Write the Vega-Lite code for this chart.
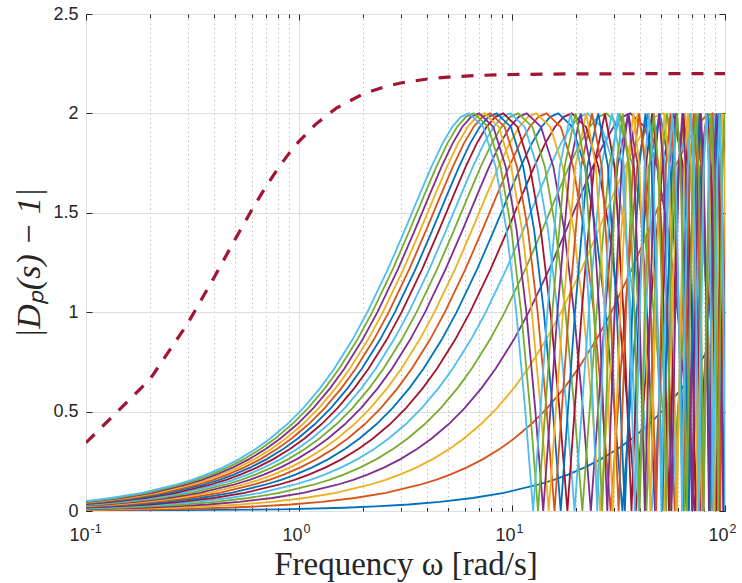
{
"$schema": "https://vega.github.io/schema/vega-lite/v6.json",
"width": 639, "height": 497,
"autosize": {"type": "none"},
"padding": {"left": 86, "top": 14, "right": 17, "bottom": 72},
"background": "white",
"config": {"view": {"stroke": "#3a3a3a", "strokeWidth": 1}, "font": "Liberation Sans"},
"datasets": {
"bound": [{"w":0.1,"v":0.3436},{"w":0.2,"v":0.6633},{"w":0.3,"v":0.9429},{"w":0.4,"v":1.176},{"w":0.5,"v":1.3644},{"w":0.6,"v":1.5142},{"w":0.7,"v":1.6324},{"w":0.8,"v":1.7258},{"w":0.9,"v":1.8},{"w":1,"v":1.8593},{"w":1.2,"v":1.9462},{"w":1.5,"v":2.0272},{"w":2,"v":2.0976},{"w":2.5,"v":2.1328},{"w":3,"v":2.1527},{"w":4,"v":2.173},{"w":5,"v":2.1826},{"w":7,"v":2.1911},{"w":10,"v":2.1956},{"w":20,"v":2.1989},{"w":50,"v":2.1998},{"w":100,"v":2.2}],
"curves": [
{"c":1,"w":0.1,"v":0.001},{"c":1,"w":0.818,"v":0.0082},{"c":1,"w":1.636,"v":0.0164},{"c":1,"w":2.291,"v":0.0229},{"c":1,"w":3.272,"v":0.0327},{"c":1,"w":4.581,"v":0.0458},{"c":1,"w":6.545,"v":0.0654},{"c":1,"w":9.163,"v":0.0916},{"c":1,"w":13.09,"v":0.1308},{"c":1,"w":18.33,"v":0.183},{"c":1,"w":26.18,"v":0.2611},{"c":1,"w":36.65,"v":0.3645},{"c":1,"w":52.36,"v":0.5176},{"c":1,"w":73.3,"v":0.7167},{"c":1,"w":104.72,"v":1},
{"c":1,"w":15.708,"v":0.1569},{"c":1,"w":21.991,"v":0.2195},{"c":1,"w":31.416,"v":0.3129},{"c":1,"w":43.982,"v":0.4363},{"c":1,"w":62.832,"v":0.618},{"c":1,"w":89.012,"v":0.861},
{"c":2,"w":0.1,"v":0.0036},{"c":2,"w":0.2286,"v":0.0082},{"c":2,"w":0.4572,"v":0.0164},{"c":2,"w":0.6401,"v":0.0229},{"c":2,"w":0.9144,"v":0.0327},{"c":2,"w":1.2801,"v":0.0458},{"c":2,"w":1.8288,"v":0.0654},{"c":2,"w":2.5603,"v":0.0916},{"c":2,"w":3.6575,"v":0.1308},{"c":2,"w":5.1205,"v":0.183},{"c":2,"w":7.315,"v":0.2611},{"c":2,"w":10.241,"v":0.3645},{"c":2,"w":14.63,"v":0.5176},{"c":2,"w":20.482,"v":0.7167},{"c":2,"w":29.26,"v":1},{"c":2,"w":58.52,"v":1.732},{"c":2,"w":87.78,"v":2},{"c":2,"w":117.04,"v":1.732},
{"c":2,"w":4.389,"v":0.1569},{"c":2,"w":6.1446,"v":0.2195},{"c":2,"w":8.778,"v":0.3129},{"c":2,"w":12.289,"v":0.4363},{"c":2,"w":17.556,"v":0.618},{"c":2,"w":24.871,"v":0.861},{"c":2,"w":36.575,"v":1.2175},{"c":2,"w":43.89,"v":1.4142},{"c":2,"w":51.205,"v":1.5867},{"c":2,"w":65.835,"v":1.8478},{"c":2,"w":73.15,"v":1.9319},{"c":2,"w":80.465,"v":1.9829},{"c":2,"w":102.41,"v":1.9319},
{"c":3,"w":0.1,"v":0.0062},{"c":3,"w":0.1329,"v":0.0082},{"c":3,"w":0.2657,"v":0.0164},{"c":3,"w":0.372,"v":0.0229},{"c":3,"w":0.5314,"v":0.0327},{"c":3,"w":0.744,"v":0.0458},{"c":3,"w":1.0629,"v":0.0654},{"c":3,"w":1.488,"v":0.0916},{"c":3,"w":2.1258,"v":0.1308},{"c":3,"w":2.9761,"v":0.183},{"c":3,"w":4.2515,"v":0.2611},{"c":3,"w":5.9521,"v":0.3645},{"c":3,"w":8.503,"v":0.5176},{"c":3,"w":11.904,"v":0.7167},{"c":3,"w":17.006,"v":1},{"c":3,"w":34.012,"v":1.732},{"c":3,"w":51.018,"v":2},{"c":3,"w":68.024,"v":1.732},{"c":3,"w":85.03,"v":1},{"c":3,"w":102.04,"v":0},
{"c":3,"w":2.5509,"v":0.1569},{"c":3,"w":3.5713,"v":0.2195},{"c":3,"w":5.1018,"v":0.3129},{"c":3,"w":7.1425,"v":0.4363},{"c":3,"w":10.204,"v":0.618},{"c":3,"w":14.455,"v":0.861},{"c":3,"w":21.258,"v":1.2175},{"c":3,"w":25.509,"v":1.4142},{"c":3,"w":29.761,"v":1.5867},{"c":3,"w":38.264,"v":1.8478},{"c":3,"w":42.515,"v":1.9319},{"c":3,"w":46.767,"v":1.9829},{"c":3,"w":59.521,"v":1.9319},{"c":3,"w":76.527,"v":1.4142},{"c":3,"w":93.533,"v":0.5176},
{"c":4,"w":0.1,"v":0.0087},{"c":4,"w":0.1873,"v":0.0164},{"c":4,"w":0.2622,"v":0.0229},{"c":4,"w":0.3746,"v":0.0327},{"c":4,"w":0.5244,"v":0.0458},{"c":4,"w":0.7491,"v":0.0654},{"c":4,"w":1.0488,"v":0.0916},{"c":4,"w":1.4983,"v":0.1308},{"c":4,"w":2.0976,"v":0.183},{"c":4,"w":2.9965,"v":0.2611},{"c":4,"w":4.1951,"v":0.3645},{"c":4,"w":5.993,"v":0.5176},{"c":4,"w":8.39,"v":0.7167},{"c":4,"w":11.986,"v":1},{"c":4,"w":23.972,"v":1.732},{"c":4,"w":35.958,"v":2},{"c":4,"w":47.944,"v":1.732},{"c":4,"w":59.93,"v":1},{"c":4,"w":71.916,"v":0},{"c":4,"w":83.902,"v":1},{"c":4,"w":95.888,"v":1.732},{"c":4,"w":107.87,"v":2},
{"c":4,"w":1.7979,"v":0.1569},{"c":4,"w":2.5171,"v":0.2195},{"c":4,"w":3.5958,"v":0.3129},{"c":4,"w":5.0341,"v":0.4363},{"c":4,"w":7.1916,"v":0.618},{"c":4,"w":10.188,"v":0.861},{"c":4,"w":14.983,"v":1.2175},{"c":4,"w":17.979,"v":1.4142},{"c":4,"w":20.976,"v":1.5867},{"c":4,"w":26.969,"v":1.8478},{"c":4,"w":29.965,"v":1.9319},{"c":4,"w":32.962,"v":1.9829},{"c":4,"w":41.951,"v":1.9319},{"c":4,"w":53.937,"v":1.4142},{"c":4,"w":65.923,"v":0.5176},
{"c":5,"w":0.1,"v":0.0113},{"c":5,"w":0.1446,"v":0.0164},{"c":5,"w":0.2024,"v":0.0229},{"c":5,"w":0.2892,"v":0.0327},{"c":5,"w":0.4049,"v":0.0458},{"c":5,"w":0.5784,"v":0.0654},{"c":5,"w":0.8098,"v":0.0916},{"c":5,"w":1.1568,"v":0.1308},{"c":5,"w":1.6195,"v":0.183},{"c":5,"w":2.3136,"v":0.2611},{"c":5,"w":3.239,"v":0.3645},{"c":5,"w":4.6272,"v":0.5176},{"c":5,"w":6.478,"v":0.7167},{"c":5,"w":9.254,"v":1},{"c":5,"w":18.509,"v":1.732},{"c":5,"w":27.763,"v":2},{"c":5,"w":37.017,"v":1.732},{"c":5,"w":46.272,"v":1},{"c":5,"w":55.526,"v":0},{"c":5,"w":64.78,"v":1},{"c":5,"w":74.034,"v":1.732},{"c":5,"w":83.289,"v":2},{"c":5,"w":92.543,"v":1.732},{"c":5,"w":101.8,"v":1},
{"c":5,"w":1.3881,"v":0.1569},{"c":5,"w":1.9434,"v":0.2195},{"c":5,"w":2.7763,"v":0.3129},{"c":5,"w":3.8868,"v":0.4363},{"c":5,"w":5.5526,"v":0.618},{"c":5,"w":7.8662,"v":0.861},{"c":5,"w":11.568,"v":1.2175},{"c":5,"w":13.881,"v":1.4142},{"c":5,"w":16.195,"v":1.5867},{"c":5,"w":20.822,"v":1.8478},{"c":5,"w":23.136,"v":1.9319},{"c":5,"w":25.449,"v":1.9829},{"c":5,"w":32.39,"v":1.9319},{"c":5,"w":41.644,"v":1.4142},{"c":5,"w":50.899,"v":0.5176},
{"c":6,"w":0.1,"v":0.0139},{"c":6,"w":0.1178,"v":0.0164},{"c":6,"w":0.1649,"v":0.0229},{"c":6,"w":0.2355,"v":0.0327},{"c":6,"w":0.3297,"v":0.0458},{"c":6,"w":0.471,"v":0.0654},{"c":6,"w":0.6595,"v":0.0916},{"c":6,"w":0.9421,"v":0.1308},{"c":6,"w":1.3189,"v":0.183},{"c":6,"w":1.8842,"v":0.2611},{"c":6,"w":2.6378,"v":0.3645},{"c":6,"w":3.7684,"v":0.5176},{"c":6,"w":5.2757,"v":0.7167},{"c":6,"w":7.537,"v":1},{"c":6,"w":15.073,"v":1.732},{"c":6,"w":22.61,"v":2},{"c":6,"w":30.147,"v":1.732},{"c":6,"w":37.684,"v":1},{"c":6,"w":45.22,"v":0},{"c":6,"w":52.757,"v":1},{"c":6,"w":60.294,"v":1.732},{"c":6,"w":67.83,"v":2},{"c":6,"w":75.367,"v":1.732},{"c":6,"w":82.904,"v":1},{"c":6,"w":90.44,"v":0},{"c":6,"w":97.977,"v":1},{"c":6,"w":105.51,"v":1.732},
{"c":6,"w":1.1305,"v":0.1569},{"c":6,"w":1.5827,"v":0.2195},{"c":6,"w":2.261,"v":0.3129},{"c":6,"w":3.1654,"v":0.4363},{"c":6,"w":4.522,"v":0.618},{"c":6,"w":6.4062,"v":0.861},{"c":6,"w":9.4209,"v":1.2175},{"c":6,"w":11.305,"v":1.4142},{"c":6,"w":13.189,"v":1.5867},{"c":6,"w":16.958,"v":1.8478},{"c":6,"w":18.842,"v":1.9319},{"c":6,"w":20.726,"v":1.9829},{"c":6,"w":26.378,"v":1.9319},{"c":6,"w":33.915,"v":1.4142},{"c":6,"w":41.452,"v":0.5176},
{"c":7,"w":0.1,"v":0.0165},{"c":7,"w":0.1391,"v":0.0229},{"c":7,"w":0.1987,"v":0.0327},{"c":7,"w":0.2781,"v":0.0458},{"c":7,"w":0.3973,"v":0.0654},{"c":7,"w":0.5562,"v":0.0916},{"c":7,"w":0.7946,"v":0.1308},{"c":7,"w":1.1124,"v":0.183},{"c":7,"w":1.5892,"v":0.2611},{"c":7,"w":2.2249,"v":0.3645},{"c":7,"w":3.1784,"v":0.5176},{"c":7,"w":4.4498,"v":0.7167},{"c":7,"w":6.357,"v":1},{"c":7,"w":12.714,"v":1.732},{"c":7,"w":19.07,"v":2},{"c":7,"w":25.427,"v":1.732},{"c":7,"w":31.784,"v":1},{"c":7,"w":38.141,"v":0},{"c":7,"w":44.498,"v":1},{"c":7,"w":50.854,"v":1.732},{"c":7,"w":57.211,"v":2},{"c":7,"w":63.568,"v":1.732},{"c":7,"w":69.925,"v":1},{"c":7,"w":76.282,"v":0},{"c":7,"w":82.638,"v":1},{"c":7,"w":88.995,"v":1.732},{"c":7,"w":95.352,"v":2},{"c":7,"w":101.71,"v":1.732},
{"c":7,"w":0.95352,"v":0.1569},{"c":7,"w":1.3349,"v":0.2195},{"c":7,"w":1.907,"v":0.3129},{"c":7,"w":2.6699,"v":0.4363},{"c":7,"w":3.8141,"v":0.618},{"c":7,"w":5.4033,"v":0.861},{"c":7,"w":7.946,"v":1.2175},{"c":7,"w":9.5352,"v":1.4142},{"c":7,"w":11.124,"v":1.5867},{"c":7,"w":14.303,"v":1.8478},{"c":7,"w":15.892,"v":1.9319},{"c":7,"w":17.481,"v":1.9829},{"c":7,"w":22.249,"v":1.9319},{"c":7,"w":28.606,"v":1.4142},{"c":7,"w":34.962,"v":0.5176},
{"c":8,"w":0.1,"v":0.0191},{"c":8,"w":0.1202,"v":0.0229},{"c":8,"w":0.1718,"v":0.0327},{"c":8,"w":0.2405,"v":0.0458},{"c":8,"w":0.3435,"v":0.0654},{"c":8,"w":0.4809,"v":0.0916},{"c":8,"w":0.687,"v":0.1308},{"c":8,"w":0.9619,"v":0.183},{"c":8,"w":1.3741,"v":0.2611},{"c":8,"w":1.9237,"v":0.3645},{"c":8,"w":2.7482,"v":0.5176},{"c":8,"w":3.8474,"v":0.7167},{"c":8,"w":5.496,"v":1},{"c":8,"w":10.993,"v":1.732},{"c":8,"w":16.489,"v":2},{"c":8,"w":21.985,"v":1.732},{"c":8,"w":27.482,"v":1},{"c":8,"w":32.978,"v":0},{"c":8,"w":38.474,"v":1},{"c":8,"w":43.97,"v":1.732},{"c":8,"w":49.467,"v":2},{"c":8,"w":54.963,"v":1.732},{"c":8,"w":60.459,"v":1},{"c":8,"w":65.956,"v":0},{"c":8,"w":71.452,"v":1},{"c":8,"w":76.948,"v":1.732},{"c":8,"w":82.445,"v":2},{"c":8,"w":87.941,"v":1.732},{"c":8,"w":93.437,"v":1},{"c":8,"w":98.933,"v":0},{"c":8,"w":104.43,"v":1},
{"c":8,"w":0.82445,"v":0.1569},{"c":8,"w":1.1542,"v":0.2195},{"c":8,"w":1.6489,"v":0.3129},{"c":8,"w":2.3084,"v":0.4363},{"c":8,"w":3.2978,"v":0.618},{"c":8,"w":4.6719,"v":0.861},{"c":8,"w":6.8704,"v":1.2175},{"c":8,"w":8.2445,"v":1.4142},{"c":8,"w":9.6185,"v":1.5867},{"c":8,"w":12.367,"v":1.8478},{"c":8,"w":13.741,"v":1.9319},{"c":8,"w":15.115,"v":1.9829},{"c":8,"w":19.237,"v":1.9319},{"c":8,"w":24.733,"v":1.4142},{"c":8,"w":30.23,"v":0.5176},
{"c":9,"w":0.1,"v":0.0216},{"c":9,"w":0.1059,"v":0.0229},{"c":9,"w":0.1513,"v":0.0327},{"c":9,"w":0.2118,"v":0.0458},{"c":9,"w":0.3026,"v":0.0654},{"c":9,"w":0.4236,"v":0.0916},{"c":9,"w":0.6051,"v":0.1308},{"c":9,"w":0.8472,"v":0.183},{"c":9,"w":1.2103,"v":0.2611},{"c":9,"w":1.6944,"v":0.3645},{"c":9,"w":2.4206,"v":0.5176},{"c":9,"w":3.3888,"v":0.7167},{"c":9,"w":4.841,"v":1},{"c":9,"w":9.682,"v":1.732},{"c":9,"w":14.523,"v":2},{"c":9,"w":19.364,"v":1.732},{"c":9,"w":24.206,"v":1},{"c":9,"w":29.047,"v":0},{"c":9,"w":33.888,"v":1},{"c":9,"w":38.729,"v":1.732},{"c":9,"w":43.57,"v":2},{"c":9,"w":48.411,"v":1.732},{"c":9,"w":53.252,"v":1},{"c":9,"w":58.093,"v":0},{"c":9,"w":62.934,"v":1},{"c":9,"w":67.775,"v":1.732},{"c":9,"w":72.617,"v":2},{"c":9,"w":77.458,"v":1.732},{"c":9,"w":82.299,"v":1},{"c":9,"w":87.14,"v":0},{"c":9,"w":91.981,"v":1},{"c":9,"w":96.822,"v":1.732},{"c":9,"w":101.66,"v":2},
{"c":9,"w":0.72617,"v":0.1569},{"c":9,"w":1.0166,"v":0.2195},{"c":9,"w":1.4523,"v":0.3129},{"c":9,"w":2.0333,"v":0.4363},{"c":9,"w":2.9047,"v":0.618},{"c":9,"w":4.1149,"v":0.861},{"c":9,"w":6.0514,"v":1.2175},{"c":9,"w":7.2617,"v":1.4142},{"c":9,"w":8.4719,"v":1.5867},{"c":9,"w":10.892,"v":1.8478},{"c":9,"w":12.103,"v":1.9319},{"c":9,"w":13.313,"v":1.9829},{"c":9,"w":16.944,"v":1.9319},{"c":9,"w":21.785,"v":1.4142},{"c":9,"w":26.626,"v":0.5176},
{"c":10,"w":0.1,"v":0.0242},{"c":10,"w":0.1352,"v":0.0327},{"c":10,"w":0.1892,"v":0.0458},{"c":10,"w":0.2703,"v":0.0654},{"c":10,"w":0.3785,"v":0.0916},{"c":10,"w":0.5407,"v":0.1308},{"c":10,"w":0.7569,"v":0.183},{"c":10,"w":1.0814,"v":0.2611},{"c":10,"w":1.5139,"v":0.3645},{"c":10,"w":2.1627,"v":0.5176},{"c":10,"w":3.0278,"v":0.7167},{"c":10,"w":4.325,"v":1},{"c":10,"w":8.651,"v":1.732},{"c":10,"w":12.976,"v":2},{"c":10,"w":17.302,"v":1.732},{"c":10,"w":21.627,"v":1},{"c":10,"w":25.952,"v":0},{"c":10,"w":30.278,"v":1},{"c":10,"w":34.603,"v":1.732},{"c":10,"w":38.929,"v":2},{"c":10,"w":43.254,"v":1.732},{"c":10,"w":47.579,"v":1},{"c":10,"w":51.905,"v":0},{"c":10,"w":56.23,"v":1},{"c":10,"w":60.556,"v":1.732},{"c":10,"w":64.881,"v":2},{"c":10,"w":69.206,"v":1.732},{"c":10,"w":73.532,"v":1},{"c":10,"w":77.857,"v":0},{"c":10,"w":82.183,"v":1},{"c":10,"w":86.508,"v":1.732},{"c":10,"w":90.833,"v":2},{"c":10,"w":95.159,"v":1.732},{"c":10,"w":99.484,"v":1},{"c":10,"w":103.81,"v":0},
{"c":10,"w":0.64881,"v":0.1569},{"c":10,"w":0.90833,"v":0.2195},{"c":10,"w":1.2976,"v":0.3129},{"c":10,"w":1.8167,"v":0.4363},{"c":10,"w":2.5952,"v":0.618},{"c":10,"w":3.6766,"v":0.861},{"c":10,"w":5.4068,"v":1.2175},{"c":10,"w":6.4881,"v":1.4142},{"c":10,"w":7.5695,"v":1.5867},{"c":10,"w":9.7322,"v":1.8478},{"c":10,"w":10.814,"v":1.9319},{"c":10,"w":11.895,"v":1.9829},{"c":10,"w":15.139,"v":1.9319},{"c":10,"w":19.464,"v":1.4142},{"c":10,"w":23.79,"v":0.5176},
{"c":11,"w":0.1,"v":0.0268},{"c":11,"w":0.1222,"v":0.0327},{"c":11,"w":0.171,"v":0.0458},{"c":11,"w":0.2443,"v":0.0654},{"c":11,"w":0.342,"v":0.0916},{"c":11,"w":0.4886,"v":0.1308},{"c":11,"w":0.6841,"v":0.183},{"c":11,"w":0.9773,"v":0.2611},{"c":11,"w":1.3682,"v":0.3645},{"c":11,"w":1.9545,"v":0.5176},{"c":11,"w":2.7363,"v":0.7167},{"c":11,"w":3.909,"v":1},{"c":11,"w":7.818,"v":1.732},{"c":11,"w":11.727,"v":2},{"c":11,"w":15.636,"v":1.732},{"c":11,"w":19.545,"v":1},{"c":11,"w":23.454,"v":0},{"c":11,"w":27.363,"v":1},{"c":11,"w":31.272,"v":1.732},{"c":11,"w":35.181,"v":2},{"c":11,"w":39.09,"v":1.732},{"c":11,"w":42.999,"v":1},{"c":11,"w":46.908,"v":0},{"c":11,"w":50.817,"v":1},{"c":11,"w":54.726,"v":1.732},{"c":11,"w":58.635,"v":2},{"c":11,"w":62.544,"v":1.732},{"c":11,"w":66.453,"v":1},{"c":11,"w":70.362,"v":0},{"c":11,"w":74.271,"v":1},{"c":11,"w":78.18,"v":1.732},{"c":11,"w":82.089,"v":2},{"c":11,"w":85.998,"v":1.732},{"c":11,"w":89.907,"v":1},{"c":11,"w":93.816,"v":0},{"c":11,"w":97.725,"v":1},{"c":11,"w":101.63,"v":1.732},
{"c":11,"w":0.58635,"v":0.1569},{"c":11,"w":0.82089,"v":0.2195},{"c":11,"w":1.1727,"v":0.3129},{"c":11,"w":1.6418,"v":0.4363},{"c":11,"w":2.3454,"v":0.618},{"c":11,"w":3.3227,"v":0.861},{"c":11,"w":4.8863,"v":1.2175},{"c":11,"w":5.8635,"v":1.4142},{"c":11,"w":6.8408,"v":1.5867},{"c":11,"w":8.7953,"v":1.8478},{"c":11,"w":9.7725,"v":1.9319},{"c":11,"w":10.75,"v":1.9829},{"c":11,"w":13.682,"v":1.9319},{"c":11,"w":17.591,"v":1.4142},{"c":11,"w":21.5,"v":0.5176},
{"c":12,"w":0.1,"v":0.0294},{"c":12,"w":0.1114,"v":0.0327},{"c":12,"w":0.156,"v":0.0458},{"c":12,"w":0.2229,"v":0.0654},{"c":12,"w":0.312,"v":0.0916},{"c":12,"w":0.4457,"v":0.1308},{"c":12,"w":0.624,"v":0.183},{"c":12,"w":0.8914,"v":0.2611},{"c":12,"w":1.248,"v":0.3645},{"c":12,"w":1.7829,"v":0.5176},{"c":12,"w":2.496,"v":0.7167},{"c":12,"w":3.566,"v":1},{"c":12,"w":7.131,"v":1.732},{"c":12,"w":10.697,"v":2},{"c":12,"w":14.263,"v":1.732},{"c":12,"w":17.829,"v":1},{"c":12,"w":21.394,"v":0},{"c":12,"w":24.96,"v":1},{"c":12,"w":28.526,"v":1.732},{"c":12,"w":32.091,"v":2},{"c":12,"w":35.657,"v":1.732},{"c":12,"w":39.223,"v":1},{"c":12,"w":42.788,"v":0},{"c":12,"w":46.354,"v":1},{"c":12,"w":49.92,"v":1.732},{"c":12,"w":53.486,"v":2},{"c":12,"w":57.051,"v":1.732},{"c":12,"w":60.617,"v":1},{"c":12,"w":64.183,"v":0},{"c":12,"w":67.748,"v":1},{"c":12,"w":71.314,"v":1.732},{"c":12,"w":74.88,"v":2},{"c":12,"w":78.445,"v":1.732},{"c":12,"w":82.011,"v":1},{"c":12,"w":85.577,"v":0},{"c":12,"w":89.143,"v":1},{"c":12,"w":92.708,"v":1.732},{"c":12,"w":96.274,"v":2},{"c":12,"w":99.84,"v":1.732},{"c":12,"w":103.41,"v":1},
{"c":12,"w":0.53486,"v":0.1569},{"c":12,"w":0.7488,"v":0.2195},{"c":12,"w":1.0697,"v":0.3129},{"c":12,"w":1.4976,"v":0.4363},{"c":12,"w":2.1394,"v":0.618},{"c":12,"w":3.0308,"v":0.861},{"c":12,"w":4.4571,"v":1.2175},{"c":12,"w":5.3486,"v":1.4142},{"c":12,"w":6.24,"v":1.5867},{"c":12,"w":8.0228,"v":1.8478},{"c":12,"w":8.9143,"v":1.9319},{"c":12,"w":9.8057,"v":1.9829},{"c":12,"w":12.48,"v":1.9319},{"c":12,"w":16.046,"v":1.4142},{"c":12,"w":19.611,"v":0.5176},
{"c":13,"w":0.1,"v":0.0319},{"c":13,"w":0.1024,"v":0.0327},{"c":13,"w":0.1434,"v":0.0458},{"c":13,"w":0.2049,"v":0.0654},{"c":13,"w":0.2868,"v":0.0916},{"c":13,"w":0.4097,"v":0.1308},{"c":13,"w":0.5736,"v":0.183},{"c":13,"w":0.8195,"v":0.2611},{"c":13,"w":1.1473,"v":0.3645},{"c":13,"w":1.639,"v":0.5176},{"c":13,"w":2.2945,"v":0.7167},{"c":13,"w":3.278,"v":1},{"c":13,"w":6.556,"v":1.732},{"c":13,"w":9.834,"v":2},{"c":13,"w":13.112,"v":1.732},{"c":13,"w":16.39,"v":1},{"c":13,"w":19.667,"v":0},{"c":13,"w":22.945,"v":1},{"c":13,"w":26.223,"v":1.732},{"c":13,"w":29.501,"v":2},{"c":13,"w":32.779,"v":1.732},{"c":13,"w":36.057,"v":1},{"c":13,"w":39.335,"v":0},{"c":13,"w":42.613,"v":1},{"c":13,"w":45.891,"v":1.732},{"c":13,"w":49.169,"v":2},{"c":13,"w":52.446,"v":1.732},{"c":13,"w":55.724,"v":1},{"c":13,"w":59.002,"v":0},{"c":13,"w":62.28,"v":1},{"c":13,"w":65.558,"v":1.732},{"c":13,"w":68.836,"v":2},{"c":13,"w":72.114,"v":1.732},{"c":13,"w":75.392,"v":1},{"c":13,"w":78.67,"v":0},{"c":13,"w":81.948,"v":1},{"c":13,"w":85.225,"v":1.732},{"c":13,"w":88.503,"v":2},{"c":13,"w":91.781,"v":1.732},{"c":13,"w":95.059,"v":1},{"c":13,"w":98.337,"v":0},{"c":13,"w":101.61,"v":1},
{"c":13,"w":0.49169,"v":0.1569},{"c":13,"w":0.68836,"v":0.2195},{"c":13,"w":0.98337,"v":0.3129},{"c":13,"w":1.3767,"v":0.4363},{"c":13,"w":1.9667,"v":0.618},{"c":13,"w":2.7862,"v":0.861},{"c":13,"w":4.0974,"v":1.2175},{"c":13,"w":4.9169,"v":1.4142},{"c":13,"w":5.7363,"v":1.5867},{"c":13,"w":7.3753,"v":1.8478},{"c":13,"w":8.1948,"v":1.9319},{"c":13,"w":9.0142,"v":1.9829},{"c":13,"w":11.473,"v":1.9319},{"c":13,"w":14.751,"v":1.4142},{"c":13,"w":18.028,"v":0.5176},
{"c":14,"w":0.1,"v":0.0345},{"c":14,"w":0.1327,"v":0.0458},{"c":14,"w":0.1896,"v":0.0654},{"c":14,"w":0.2654,"v":0.0916},{"c":14,"w":0.3791,"v":0.1308},{"c":14,"w":0.5308,"v":0.183},{"c":14,"w":0.7583,"v":0.2611},{"c":14,"w":1.0616,"v":0.3645},{"c":14,"w":1.5165,"v":0.5176},{"c":14,"w":2.1231,"v":0.7167},{"c":14,"w":3.033,"v":1},{"c":14,"w":6.066,"v":1.732},{"c":14,"w":9.099,"v":2},{"c":14,"w":12.132,"v":1.732},{"c":14,"w":15.165,"v":1},{"c":14,"w":18.198,"v":0},{"c":14,"w":21.231,"v":1},{"c":14,"w":24.264,"v":1.732},{"c":14,"w":27.297,"v":2},{"c":14,"w":30.33,"v":1.732},{"c":14,"w":33.363,"v":1},{"c":14,"w":36.396,"v":0},{"c":14,"w":39.429,"v":1},{"c":14,"w":42.462,"v":1.732},{"c":14,"w":45.495,"v":2},{"c":14,"w":48.528,"v":1.732},{"c":14,"w":51.561,"v":1},{"c":14,"w":54.594,"v":0},{"c":14,"w":57.627,"v":1},{"c":14,"w":60.66,"v":1.732},{"c":14,"w":63.693,"v":2},{"c":14,"w":66.726,"v":1.732},{"c":14,"w":69.759,"v":1},{"c":14,"w":72.792,"v":0},{"c":14,"w":75.825,"v":1},{"c":14,"w":78.858,"v":1.732},{"c":14,"w":81.891,"v":2},{"c":14,"w":84.924,"v":1.732},{"c":14,"w":87.957,"v":1},{"c":14,"w":90.99,"v":0},{"c":14,"w":94.023,"v":1},{"c":14,"w":97.056,"v":1.732},{"c":14,"w":100.09,"v":2},
{"c":14,"w":0.45495,"v":0.1569},{"c":14,"w":0.63693,"v":0.2195},{"c":14,"w":0.9099,"v":0.3129},{"c":14,"w":1.2739,"v":0.4363},{"c":14,"w":1.8198,"v":0.618},{"c":14,"w":2.5781,"v":0.861},{"c":14,"w":3.7913,"v":1.2175},{"c":14,"w":4.5495,"v":1.4142},{"c":14,"w":5.3078,"v":1.5867},{"c":14,"w":6.8243,"v":1.8478},{"c":14,"w":7.5825,"v":1.9319},{"c":14,"w":8.3408,"v":1.9829},{"c":14,"w":10.616,"v":1.9319},{"c":14,"w":13.649,"v":1.4142},{"c":14,"w":16.682,"v":0.5176},
{"c":15,"w":0.1,"v":0.0371},{"c":15,"w":0.1235,"v":0.0458},{"c":15,"w":0.1764,"v":0.0654},{"c":15,"w":0.2469,"v":0.0916},{"c":15,"w":0.3528,"v":0.1308},{"c":15,"w":0.4939,"v":0.183},{"c":15,"w":0.7056,"v":0.2611},{"c":15,"w":0.9878,"v":0.3645},{"c":15,"w":1.4111,"v":0.5176},{"c":15,"w":1.9755,"v":0.7167},{"c":15,"w":2.822,"v":1},{"c":15,"w":5.644,"v":1.732},{"c":15,"w":8.467,"v":2},{"c":15,"w":11.289,"v":1.732},{"c":15,"w":14.111,"v":1},{"c":15,"w":16.933,"v":0},{"c":15,"w":19.755,"v":1},{"c":15,"w":22.578,"v":1.732},{"c":15,"w":25.4,"v":2},{"c":15,"w":28.222,"v":1.732},{"c":15,"w":31.044,"v":1},{"c":15,"w":33.866,"v":0},{"c":15,"w":36.689,"v":1},{"c":15,"w":39.511,"v":1.732},{"c":15,"w":42.333,"v":2},{"c":15,"w":45.155,"v":1.732},{"c":15,"w":47.977,"v":1},{"c":15,"w":50.8,"v":0},{"c":15,"w":53.622,"v":1},{"c":15,"w":56.444,"v":1.732},{"c":15,"w":59.266,"v":2},{"c":15,"w":62.088,"v":1.732},{"c":15,"w":64.911,"v":1},{"c":15,"w":67.733,"v":0},{"c":15,"w":70.555,"v":1},{"c":15,"w":73.377,"v":1.732},{"c":15,"w":76.199,"v":2},{"c":15,"w":79.022,"v":1.732},{"c":15,"w":81.844,"v":1},{"c":15,"w":84.666,"v":0},{"c":15,"w":87.488,"v":1},{"c":15,"w":90.31,"v":1.732},{"c":15,"w":93.133,"v":2},{"c":15,"w":95.955,"v":1.732},{"c":15,"w":98.777,"v":1},{"c":15,"w":101.6,"v":0},
{"c":15,"w":0.42333,"v":0.1569},{"c":15,"w":0.59266,"v":0.2195},{"c":15,"w":0.84666,"v":0.3129},{"c":15,"w":1.1853,"v":0.4363},{"c":15,"w":1.6933,"v":0.618},{"c":15,"w":2.3989,"v":0.861},{"c":15,"w":3.5278,"v":1.2175},{"c":15,"w":4.2333,"v":1.4142},{"c":15,"w":4.9389,"v":1.5867},{"c":15,"w":6.35,"v":1.8478},{"c":15,"w":7.0555,"v":1.9319},{"c":15,"w":7.7611,"v":1.9829},{"c":15,"w":9.8777,"v":1.9319},{"c":15,"w":12.7,"v":1.4142},{"c":15,"w":15.522,"v":0.5176},
{"c":16,"w":0.1,"v":0.0397},{"c":16,"w":0.1154,"v":0.0458},{"c":16,"w":0.1649,"v":0.0654},{"c":16,"w":0.2309,"v":0.0916},{"c":16,"w":0.3299,"v":0.1308},{"c":16,"w":0.4618,"v":0.183},{"c":16,"w":0.6597,"v":0.2611},{"c":16,"w":0.9236,"v":0.3645},{"c":16,"w":1.3194,"v":0.5176},{"c":16,"w":1.8472,"v":0.7167},{"c":16,"w":2.639,"v":1},{"c":16,"w":5.278,"v":1.732},{"c":16,"w":7.916,"v":2},{"c":16,"w":10.555,"v":1.732},{"c":16,"w":13.194,"v":1},{"c":16,"w":15.833,"v":0},{"c":16,"w":18.472,"v":1},{"c":16,"w":21.11,"v":1.732},{"c":16,"w":23.749,"v":2},{"c":16,"w":26.388,"v":1.732},{"c":16,"w":29.027,"v":1},{"c":16,"w":31.666,"v":0},{"c":16,"w":34.304,"v":1},{"c":16,"w":36.943,"v":1.732},{"c":16,"w":39.582,"v":2},{"c":16,"w":42.221,"v":1.732},{"c":16,"w":44.86,"v":1},{"c":16,"w":47.498,"v":0},{"c":16,"w":50.137,"v":1},{"c":16,"w":52.776,"v":1.732},{"c":16,"w":55.415,"v":2},{"c":16,"w":58.054,"v":1.732},{"c":16,"w":60.692,"v":1},{"c":16,"w":63.331,"v":0},{"c":16,"w":65.97,"v":1},{"c":16,"w":68.609,"v":1.732},{"c":16,"w":71.248,"v":2},{"c":16,"w":73.886,"v":1.732},{"c":16,"w":76.525,"v":1},{"c":16,"w":79.164,"v":0},{"c":16,"w":81.803,"v":1},{"c":16,"w":84.442,"v":1.732},{"c":16,"w":87.08,"v":2},{"c":16,"w":89.719,"v":1.732},{"c":16,"w":92.358,"v":1},{"c":16,"w":94.997,"v":0},{"c":16,"w":97.636,"v":1},{"c":16,"w":100.27,"v":1.732},
{"c":16,"w":0.39582,"v":0.1569},{"c":16,"w":0.55415,"v":0.2195},{"c":16,"w":0.79164,"v":0.3129},{"c":16,"w":1.1083,"v":0.4363},{"c":16,"w":1.5833,"v":0.618},{"c":16,"w":2.243,"v":0.861},{"c":16,"w":3.2985,"v":1.2175},{"c":16,"w":3.9582,"v":1.4142},{"c":16,"w":4.6179,"v":1.5867},{"c":16,"w":5.9373,"v":1.8478},{"c":16,"w":6.597,"v":1.9319},{"c":16,"w":7.2567,"v":1.9829},{"c":16,"w":9.2358,"v":1.9319},{"c":16,"w":11.875,"v":1.4142},{"c":16,"w":14.513,"v":0.5176},
{"c":17,"w":0.1,"v":0.0423},{"c":17,"w":0.1084,"v":0.0458},{"c":17,"w":0.1549,"v":0.0654},{"c":17,"w":0.2168,"v":0.0916},{"c":17,"w":0.3097,"v":0.1308},{"c":17,"w":0.4336,"v":0.183},{"c":17,"w":0.6195,"v":0.2611},{"c":17,"w":0.8672,"v":0.3645},{"c":17,"w":1.2389,"v":0.5176},{"c":17,"w":1.7345,"v":0.7167},{"c":17,"w":2.478,"v":1},{"c":17,"w":4.956,"v":1.732},{"c":17,"w":7.433,"v":2},{"c":17,"w":9.911,"v":1.732},{"c":17,"w":12.389,"v":1},{"c":17,"w":14.867,"v":0},{"c":17,"w":17.345,"v":1},{"c":17,"w":19.822,"v":1.732},{"c":17,"w":22.3,"v":2},{"c":17,"w":24.778,"v":1.732},{"c":17,"w":27.256,"v":1},{"c":17,"w":29.734,"v":0},{"c":17,"w":32.211,"v":1},{"c":17,"w":34.689,"v":1.732},{"c":17,"w":37.167,"v":2},{"c":17,"w":39.645,"v":1.732},{"c":17,"w":42.123,"v":1},{"c":17,"w":44.6,"v":0},{"c":17,"w":47.078,"v":1},{"c":17,"w":49.556,"v":1.732},{"c":17,"w":52.034,"v":2},{"c":17,"w":54.512,"v":1.732},{"c":17,"w":56.989,"v":1},{"c":17,"w":59.467,"v":0},{"c":17,"w":61.945,"v":1},{"c":17,"w":64.423,"v":1.732},{"c":17,"w":66.901,"v":2},{"c":17,"w":69.378,"v":1.732},{"c":17,"w":71.856,"v":1},{"c":17,"w":74.334,"v":0},{"c":17,"w":76.812,"v":1},{"c":17,"w":79.29,"v":1.732},{"c":17,"w":81.767,"v":2},{"c":17,"w":84.245,"v":1.732},{"c":17,"w":86.723,"v":1},{"c":17,"w":89.201,"v":0},{"c":17,"w":91.679,"v":1},{"c":17,"w":94.156,"v":1.732},{"c":17,"w":96.634,"v":2},{"c":17,"w":99.112,"v":1.732},{"c":17,"w":101.59,"v":1},
{"c":17,"w":0.37167,"v":0.1569},{"c":17,"w":0.52034,"v":0.2195},{"c":17,"w":0.74334,"v":0.3129},{"c":17,"w":1.0407,"v":0.4363},{"c":17,"w":1.4867,"v":0.618},{"c":17,"w":2.1061,"v":0.861},{"c":17,"w":3.0973,"v":1.2175},{"c":17,"w":3.7167,"v":1.4142},{"c":17,"w":4.3362,"v":1.5867},{"c":17,"w":5.5751,"v":1.8478},{"c":17,"w":6.1945,"v":1.9319},{"c":17,"w":6.814,"v":1.9829},{"c":17,"w":8.6723,"v":1.9319},{"c":17,"w":11.15,"v":1.4142},{"c":17,"w":13.628,"v":0.5176},
{"c":18,"w":0.1,"v":0.0448},{"c":18,"w":0.1022,"v":0.0458},{"c":18,"w":0.146,"v":0.0654},{"c":18,"w":0.2043,"v":0.0916},{"c":18,"w":0.2919,"v":0.1308},{"c":18,"w":0.4087,"v":0.183},{"c":18,"w":0.5838,"v":0.2611},{"c":18,"w":0.8174,"v":0.3645},{"c":18,"w":1.1677,"v":0.5176},{"c":18,"w":1.6347,"v":0.7167},{"c":18,"w":2.335,"v":1},{"c":18,"w":4.671,"v":1.732},{"c":18,"w":7.006,"v":2},{"c":18,"w":9.341,"v":1.732},{"c":18,"w":11.677,"v":1},{"c":18,"w":14.012,"v":0},{"c":18,"w":16.347,"v":1},{"c":18,"w":18.682,"v":1.732},{"c":18,"w":21.018,"v":2},{"c":18,"w":23.353,"v":1.732},{"c":18,"w":25.688,"v":1},{"c":18,"w":28.024,"v":0},{"c":18,"w":30.359,"v":1},{"c":18,"w":32.694,"v":1.732},{"c":18,"w":35.03,"v":2},{"c":18,"w":37.365,"v":1.732},{"c":18,"w":39.7,"v":1},{"c":18,"w":42.035,"v":0},{"c":18,"w":44.371,"v":1},{"c":18,"w":46.706,"v":1.732},{"c":18,"w":49.041,"v":2},{"c":18,"w":51.377,"v":1.732},{"c":18,"w":53.712,"v":1},{"c":18,"w":56.047,"v":0},{"c":18,"w":58.383,"v":1},{"c":18,"w":60.718,"v":1.732},{"c":18,"w":63.053,"v":2},{"c":18,"w":65.388,"v":1.732},{"c":18,"w":67.724,"v":1},{"c":18,"w":70.059,"v":0},{"c":18,"w":72.394,"v":1},{"c":18,"w":74.73,"v":1.732},{"c":18,"w":77.065,"v":2},{"c":18,"w":79.4,"v":1.732},{"c":18,"w":81.736,"v":1},{"c":18,"w":84.071,"v":0},{"c":18,"w":86.406,"v":1},{"c":18,"w":88.741,"v":1.732},{"c":18,"w":91.077,"v":2},{"c":18,"w":93.412,"v":1.732},{"c":18,"w":95.747,"v":1},{"c":18,"w":98.083,"v":0},{"c":18,"w":100.42,"v":1},
{"c":18,"w":0.3503,"v":0.1569},{"c":18,"w":0.49041,"v":0.2195},{"c":18,"w":0.70059,"v":0.3129},{"c":18,"w":0.98083,"v":0.4363},{"c":18,"w":1.4012,"v":0.618},{"c":18,"w":1.985,"v":0.861},{"c":18,"w":2.9191,"v":1.2175},{"c":18,"w":3.503,"v":1.4142},{"c":18,"w":4.0868,"v":1.5867},{"c":18,"w":5.2544,"v":1.8478},{"c":18,"w":5.8383,"v":1.9319},{"c":18,"w":6.4221,"v":1.9829},{"c":18,"w":8.1736,"v":1.9319},{"c":18,"w":10.509,"v":1.4142},{"c":18,"w":12.844,"v":0.5176},
{"c":19,"w":0.1,"v":0.0474},{"c":19,"w":0.138,"v":0.0654},{"c":19,"w":0.1932,"v":0.0916},{"c":19,"w":0.276,"v":0.1308},{"c":19,"w":0.3865,"v":0.183},{"c":19,"w":0.5521,"v":0.2611},{"c":19,"w":0.7729,"v":0.3645},{"c":19,"w":1.1042,"v":0.5176},{"c":19,"w":1.5458,"v":0.7167},{"c":19,"w":2.208,"v":1},{"c":19,"w":4.417,"v":1.732},{"c":19,"w":6.625,"v":2},{"c":19,"w":8.833,"v":1.732},{"c":19,"w":11.042,"v":1},{"c":19,"w":13.25,"v":0},{"c":19,"w":15.458,"v":1},{"c":19,"w":17.666,"v":1.732},{"c":19,"w":19.875,"v":2},{"c":19,"w":22.083,"v":1.732},{"c":19,"w":24.291,"v":1},{"c":19,"w":26.5,"v":0},{"c":19,"w":28.708,"v":1},{"c":19,"w":30.916,"v":1.732},{"c":19,"w":33.125,"v":2},{"c":19,"w":35.333,"v":1.732},{"c":19,"w":37.541,"v":1},{"c":19,"w":39.749,"v":0},{"c":19,"w":41.958,"v":1},{"c":19,"w":44.166,"v":1.732},{"c":19,"w":46.374,"v":2},{"c":19,"w":48.583,"v":1.732},{"c":19,"w":50.791,"v":1},{"c":19,"w":52.999,"v":0},{"c":19,"w":55.208,"v":1},{"c":19,"w":57.416,"v":1.732},{"c":19,"w":59.624,"v":2},{"c":19,"w":61.832,"v":1.732},{"c":19,"w":64.041,"v":1},{"c":19,"w":66.249,"v":0},{"c":19,"w":68.457,"v":1},{"c":19,"w":70.666,"v":1.732},{"c":19,"w":72.874,"v":2},{"c":19,"w":75.082,"v":1.732},{"c":19,"w":77.291,"v":1},{"c":19,"w":79.499,"v":0},{"c":19,"w":81.707,"v":1},{"c":19,"w":83.915,"v":1.732},{"c":19,"w":86.124,"v":2},{"c":19,"w":88.332,"v":1.732},{"c":19,"w":90.54,"v":1},{"c":19,"w":92.749,"v":0},{"c":19,"w":94.957,"v":1},{"c":19,"w":97.165,"v":1.732},{"c":19,"w":99.374,"v":2},{"c":19,"w":101.58,"v":1.732},
{"c":19,"w":0.33125,"v":0.1569},{"c":19,"w":0.46374,"v":0.2195},{"c":19,"w":0.66249,"v":0.3129},{"c":19,"w":0.92749,"v":0.4363},{"c":19,"w":1.325,"v":0.618},{"c":19,"w":1.8771,"v":0.861},{"c":19,"w":2.7604,"v":1.2175},{"c":19,"w":3.3125,"v":1.4142},{"c":19,"w":3.8645,"v":1.5867},{"c":19,"w":4.9687,"v":1.8478},{"c":19,"w":5.5208,"v":1.9319},{"c":19,"w":6.0728,"v":1.9829},{"c":19,"w":7.7291,"v":1.9319},{"c":19,"w":9.9374,"v":1.4142},{"c":19,"w":12.146,"v":0.5176},
{"c":20,"w":0.1,"v":0.05},{"c":20,"w":0.1309,"v":0.0654},{"c":20,"w":0.1833,"v":0.0916},{"c":20,"w":0.2618,"v":0.1308},{"c":20,"w":0.3665,"v":0.183},{"c":20,"w":0.5236,"v":0.2611},{"c":20,"w":0.733,"v":0.3645},{"c":20,"w":1.0472,"v":0.5176},{"c":20,"w":1.4661,"v":0.7167},{"c":20,"w":2.094,"v":1},{"c":20,"w":4.189,"v":1.732},{"c":20,"w":6.283,"v":2},{"c":20,"w":8.378,"v":1.732},{"c":20,"w":10.472,"v":1},{"c":20,"w":12.566,"v":0},{"c":20,"w":14.661,"v":1},{"c":20,"w":16.755,"v":1.732},{"c":20,"w":18.85,"v":2},{"c":20,"w":20.944,"v":1.732},{"c":20,"w":23.038,"v":1},{"c":20,"w":25.133,"v":0},{"c":20,"w":27.227,"v":1},{"c":20,"w":29.322,"v":1.732},{"c":20,"w":31.416,"v":2},{"c":20,"w":33.51,"v":1.732},{"c":20,"w":35.605,"v":1},{"c":20,"w":37.699,"v":0},{"c":20,"w":39.794,"v":1},{"c":20,"w":41.888,"v":1.732},{"c":20,"w":43.982,"v":2},{"c":20,"w":46.077,"v":1.732},{"c":20,"w":48.171,"v":1},{"c":20,"w":50.265,"v":0},{"c":20,"w":52.36,"v":1},{"c":20,"w":54.454,"v":1.732},{"c":20,"w":56.549,"v":2},{"c":20,"w":58.643,"v":1.732},{"c":20,"w":60.737,"v":1},{"c":20,"w":62.832,"v":0},{"c":20,"w":64.926,"v":1},{"c":20,"w":67.021,"v":1.732},{"c":20,"w":69.115,"v":2},{"c":20,"w":71.209,"v":1.732},{"c":20,"w":73.304,"v":1},{"c":20,"w":75.398,"v":0},{"c":20,"w":77.493,"v":1},{"c":20,"w":79.587,"v":1.732},{"c":20,"w":81.681,"v":2},{"c":20,"w":83.776,"v":1.732},{"c":20,"w":85.87,"v":1},{"c":20,"w":87.965,"v":0},{"c":20,"w":90.059,"v":1},{"c":20,"w":92.153,"v":1.732},{"c":20,"w":94.248,"v":2},{"c":20,"w":96.342,"v":1.732},{"c":20,"w":98.437,"v":1},{"c":20,"w":100.53,"v":0},
{"c":20,"w":0.31416,"v":0.1569},{"c":20,"w":0.43982,"v":0.2195},{"c":20,"w":0.62832,"v":0.3129},{"c":20,"w":0.87965,"v":0.4363},{"c":20,"w":1.2566,"v":0.618},{"c":20,"w":1.7802,"v":0.861},{"c":20,"w":2.618,"v":1.2175},{"c":20,"w":3.1416,"v":1.4142},{"c":20,"w":3.6652,"v":1.5867},{"c":20,"w":4.7124,"v":1.8478},{"c":20,"w":5.236,"v":1.9319},{"c":20,"w":5.7596,"v":1.9829},{"c":20,"w":7.3304,"v":1.9319},{"c":20,"w":9.4248,"v":1.4142},{"c":20,"w":11.519,"v":0.5176}
]},
"resolve": {"axis": {"x": "independent", "y": "independent"}},
"layer": [
{"data": {"name": "curves"},
 "mark": {"type": "line", "strokeWidth": 1.8, "clip": true},
 "encoding": {
  "x": {"field": "w", "type": "quantitative", "scale": {"type": "log", "domain": [0.1, 100], "nice": false},
    "axis": {"orient": "bottom", "values": [0.1, 1, 10, 100], "labelExpr": "'10'",
      "labelFont": "Liberation Sans", "labelFontSize": 18, "labelColor": "#262626", "labelPadding": 15, "labelFlush": false, "labelOffset": -7,
      "ticks": false, "domain": false, "grid": true, "gridColor": "#dedede", "gridWidth": 1,
      "title": "Frequency \u03c9 [rad/s]", "titleFont": "Liberation Serif", "titleFontSize": 33, "titleFontWeight": "normal", "titleColor": "#262626", "titlePadding": 4}},
  "y": {"field": "v", "type": "quantitative", "scale": {"domain": [0, 2.5], "nice": false, "zero": false},
    "axis": {"orient": "left", "values": [0, 0.5, 1, 1.5, 2, 2.5], "labelExpr": "'' + datum.value",
      "labelFont": "Liberation Sans", "labelFontSize": 18, "labelColor": "#262626", "labelPadding": 8,
      "ticks": false, "domain": false, "grid": true, "gridColor": "#dedede", "gridWidth": 1,
      "title": "|D\u209a(s) \u2212 1|", "titleFont": "Liberation Serif", "titleFontSize": 34, "titleFontWeight": "normal", "titleFontStyle": "italic", "titleColor": "#262626", "titlePadding": 6}},
  "color": {"field": "c", "type": "nominal", "legend": null,
    "scale": {"domain": [1,2,3,4,5,6,7,8,9,10,11,12,13,14,15,16,17,18,19,20],
      "range": ["#0072BD","#D95319","#EDB120","#7E2F8E","#77AC30","#4DBEEE","#A2142F","#0072BD","#D95319","#EDB120","#7E2F8E","#77AC30","#4DBEEE","#A2142F","#0072BD","#D95319","#EDB120","#7E2F8E","#77AC30","#4DBEEE"]}}
 }},
{"data": {"name": "bound"},
 "mark": {"type": "line", "strokeWidth": 3.2, "strokeDash": [12, 11], "color": "#A2142F", "clip": true},
 "encoding": {
  "x": {"field": "w", "type": "quantitative",
    "axis": {"orient": "bottom", "values": [0.2,0.3,0.4,0.5,0.6,0.7,0.8,0.9,2,3,4,5,6,7,8,9,20,30,40,50,60,70,80,90],
      "labels": false, "domain": false, "grid": true, "gridColor": "#c4c4c4", "gridDash": [1.5, 3], "gridWidth": 1,
      "ticks": true, "tickSize": -3.5, "tickColor": "#262626", "title": null}},
  "y": {"field": "v", "type": "quantitative",
    "axis": {"orient": "left", "values": [0, 0.5, 1, 1.5, 2, 2.5], "labels": false, "domain": false, "grid": false,
      "ticks": true, "tickSize": -6, "tickColor": "#262626", "title": null}}
 }},
{"data": {"name": "bound"},
 "mark": {"type": "line", "strokeOpacity": 0},
 "encoding": {
  "x": {"field": "w", "type": "quantitative",
    "axis": {"orient": "bottom", "values": [0.1, 1, 10, 100], "labelExpr": "datum.value == 0.1 ? '-1' : datum.value == 1 ? '0' : datum.value == 10 ? '1' : '2'",
      "labelFont": "Liberation Sans", "labelFontSize": 12.5, "labelColor": "#262626", "labelPadding": 11, "labelFlush": false, "labelAlign": "left", "labelOffset": 4,
      "domain": false, "grid": false, "ticks": false, "title": null}},
  "y": {"field": "v", "type": "quantitative",
    "axis": {"orient": "right", "values": [0, 0.5, 1, 1.5, 2, 2.5], "labels": false, "domain": false, "grid": false,
      "ticks": true, "tickSize": -6, "tickColor": "#262626", "title": null}}
 }},
{"data": {"name": "bound"},
 "mark": {"type": "line", "strokeOpacity": 0},
 "encoding": {
  "x": {"field": "w", "type": "quantitative",
    "axis": {"orient": "top", "values": [0.1, 1, 10, 100], "labels": false, "domain": false, "grid": false,
      "ticks": true, "tickSize": -6, "tickColor": "#262626", "title": null}},
  "y": {"field": "v", "type": "quantitative", "axis": null}
 }},
{"data": {"name": "bound"},
 "mark": {"type": "line", "strokeOpacity": 0},
 "encoding": {
  "x": {"field": "w", "type": "quantitative",
    "axis": {"orient": "top", "values": [0.2,0.3,0.4,0.5,0.6,0.7,0.8,0.9,2,3,4,5,6,7,8,9,20,30,40,50,60,70,80,90],
      "labels": false, "domain": false, "grid": false, "ticks": true, "tickSize": -3.5, "tickColor": "#262626", "title": null}},
  "y": {"field": "v", "type": "quantitative", "axis": null}
 }},
{"data": {"name": "bound"},
 "mark": {"type": "line", "strokeOpacity": 0},
 "encoding": {
  "x": {"field": "w", "type": "quantitative",
    "axis": {"orient": "bottom", "values": [0.1, 1, 10, 100], "labels": false, "domain": false, "grid": false,
      "ticks": true, "tickSize": -6, "tickColor": "#262626", "title": null}},
  "y": {"field": "v", "type": "quantitative", "axis": null}
 }}
]
}
